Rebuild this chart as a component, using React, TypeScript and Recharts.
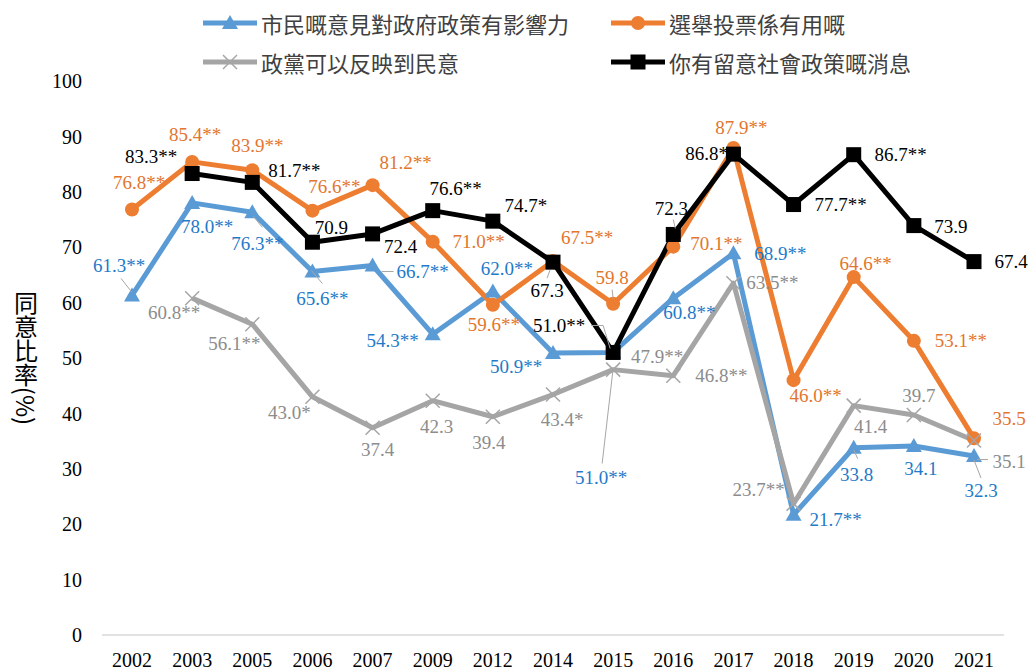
import React from 'react';
import { LineChart, Line, XAxis, YAxis } from 'recharts';

const years = ['2002', '2003', '2005', '2006', '2007', '2009', '2012', '2014', '2015', '2016', '2017', '2018', '2019', '2020', '2021'];

// 市民嘅意見對政府政策有影響力
const influence = [61.3, 78.0, 76.3, 65.6, 66.7, 54.3, 62.0, 50.9, 51.0, 60.8, 68.9, 21.7, 33.8, 34.1, 32.3];
const influenceSig = ['**', '**', '**', '**', '**', '**', '**', '**', '**', '**', '**', '**', '', '', ''];

// 選舉投票係有用嘅
const voting = [76.8, 85.4, 83.9, 76.6, 81.2, 71.0, 59.6, 67.5, 59.8, 70.1, 87.9, 46.0, 64.6, 53.1, 35.5];
const votingSig = ['**', '**', '**', '**', '**', '**', '**', '**', '', '**', '**', '**', '**', '**', ''];

// 政黨可以反映到民意
const parties = [null, 60.8, 56.1, 43.0, 37.4, 42.3, 39.4, 43.4, 47.9, 46.8, 63.5, 23.7, 41.4, 39.7, 35.1];
const partiesSig = ['', '**', '**', '*', '', '', '', '*', '**', '**', '**', '**', '', '', ''];

// 你有留意社會政策嘅消息
const attention = [null, 83.3, 81.7, 70.9, 72.4, 76.6, 74.7, 67.3, 51.0, 72.3, 86.8, 77.7, 86.7, 73.9, 67.4];
const attentionSig = ['', '**', '**', '', '', '**', '*', '', '**', '', '**', '**', '**', '', ''];

const yTicks = [0, 10, 20, 30, 40, 50, 60, 70, 80, 90, 100];

// label placement, relative to each point
const influenceLabelPos = [[-13, -30], [15, 24], [5, 31], [10, 27], [50, 6], [-40, 6], [14, -23], [-37, 13], [-12, 125], [16, 14], [47, 0], [42, 5], [3, 27], [7, 22], [7, 34]];
const votingLabelPos = [[7, -27], [3, -27], [5, -25], [22, -24], [33, -23], [46, 0], [1, 20], [34, -24], [-1, -26], [43, -3], [8, -21], [22, 15], [12, -14], [47, 0], [35, -20]];
const partiesLabelPos = [[0, 0], [-18, 14], [-18, 19], [-23, 16], [5, 22], [4, 26], [-4, 26], [9, 25], [44, -13], [48, 0], [39, -1], [-35, -14], [17, 21], [5, -20], [35, 21]];
const attentionLabelPos = [[0, 0], [-41, -17], [42, -12], [19, -15], [28, 13], [23, -22], [33, -16], [-6, 28], [-54, -27], [-2, -26], [-22, -1], [47, 0], [47, 0], [37, 1], [37, 0]];

// leader lines (relative polylines) for some labels
const influenceLeaders: Record<number, number[][]> = {
  0: [[-11, -17], [0, -3]],
  2: [[1, 4], [10, 15]],
  3: [[-1, -1], [10, 12]],
  4: [[9, 6], [21, 6]],
  8: [[0, 16], [-11, 111]],
  12: [[0, 2], [4, 11]],
  14: [[0, 4], [7, 22]],
};
const votingLeaders: Record<number, number[][]> = {
  8: [[-1, -14], [0, -5]],
};
const partiesLeaders: Record<number, number[][]> = {
  14: [[3, 19], [14, 19]],
};
const attentionLeaders: Record<number, number[][]> = {
  7: [[-3, 8], [-6, 16]],
  8: [[-22, -27], [-10, -27], [-3, -4]],
  9: [[0, -15], [2, -6]],
};

const data = years.map((year, i) => ({
  year,
  influence: influence[i],
  voting: voting[i],
  parties: parties[i],
  attention: attention[i],
}));

const serif = "'Liberation Serif', 'DejaVu Serif', serif";
const cjk = "'Noto Sans CJK TC', 'Noto Sans CJK SC', sans-serif";

type Marker = 'triangle' | 'circle' | 'cross' | 'square';

const series = [
  { key: 'influence', name: '市民嘅意見對政府政策有影響力', color: '#5B9BD5', text: '#1F7AC8', marker: 'triangle' as Marker, sig: influenceSig, pos: influenceLabelPos, leaders: influenceLeaders },
  { key: 'voting', name: '選舉投票係有用嘅', color: '#ED7D31', text: '#E2762E', marker: 'circle' as Marker, sig: votingSig, pos: votingLabelPos, leaders: votingLeaders },
  { key: 'parties', name: '政黨可以反映到民意', color: '#A5A5A5', text: '#8C8C8C', marker: 'cross' as Marker, sig: partiesSig, pos: partiesLabelPos, leaders: partiesLeaders },
  { key: 'attention', name: '你有留意社會政策嘅消息', color: '#000000', text: '#000000', marker: 'square' as Marker, sig: attentionSig, pos: attentionLabelPos, leaders: attentionLeaders },
];

function drawMarker(kind: Marker, color: string, cx: number, cy: number) {
  if (kind === 'triangle') {
    return <polygon points={`${cx},${cy - 8} ${cx - 8},${cy + 6} ${cx + 8},${cy + 6}`} fill={color} />;
  }
  if (kind === 'circle') {
    return <circle cx={cx} cy={cy} r={7} fill={color} />;
  }
  if (kind === 'square') {
    return <rect x={cx - 7.5} y={cy - 7.5} width={15} height={15} fill={color} />;
  }
  return (
    <g stroke={color} strokeWidth={1.5}>
      <line x1={cx - 7} y1={cy - 7} x2={cx + 7} y2={cy + 7} />
      <line x1={cx - 7} y1={cy + 7} x2={cx + 7} y2={cy - 7} />
    </g>
  );
}

const markerDot = (kind: Marker, color: string) => (props: any) => {
  const { cx, cy, index, payload } = props;
  if (cx == null || cy == null || payload == null || payload[props.dataKey] == null) return <g key={`m-${index}`} />;
  return <g key={`m-${index}`}>{drawMarker(kind, color, cx, cy)}</g>;
};

const labelDot = (s: (typeof series)[number]) => (props: any) => {
  const { cx, cy, index, payload } = props;
  const v = payload ? payload[s.key] : null;
  if (cx == null || cy == null || v == null) return <g key={`l-${index}`} />;
  const [dx, dy] = s.pos[index];
  const leader = s.leaders[index];
  return (
    <g key={`l-${index}`}>
      {leader && (
        <polyline
          points={leader.map(([lx, ly]) => `${cx + lx},${cy + ly}`).join(' ')}
          fill="none"
          stroke="#A6A6A6"
          strokeWidth={1}
        />
      )}
      <text
        x={cx + dx}
        y={cy + dy}
        textAnchor="middle"
        dominantBaseline="central"
        fontSize={19}
        fill={s.text}
        style={{ fontFamily: serif }}
      >
        {v.toFixed(1) + s.sig[index]}
      </text>
    </g>
  );
};

const legendPlaces = [
  { left: 203, top: 23 },
  { left: 611, top: 23 },
  { left: 203, top: 62 },
  { left: 611, top: 62 },
];

function LegendBox() {
  return (
    <>
      {series.map((s, i) => (
        <div
          key={s.key}
          style={{
            position: 'absolute',
            left: legendPlaces[i].left,
            top: legendPlaces[i].top - 15,
            height: 30,
            display: 'flex',
            alignItems: 'center',
            whiteSpace: 'nowrap',
          }}
        >
          <svg width={54} height={20} style={{ marginRight: 4 }}>
            <line x1={0} y1={10} x2={54} y2={10} stroke={s.color} strokeWidth={5} />
            {drawMarker(s.marker, s.color, 27, 10)}
          </svg>
          <span style={{ fontFamily: cjk, fontSize: 22, color: '#404040' }}>{s.name}</span>
        </div>
      ))}
    </>
  );
}

const YLabel = (props: any) => {
  const { viewBox } = props;
  const x = viewBox.x - 16;
  const y = viewBox.y + viewBox.height / 2;
  return (
    <text
      x={x}
      y={y}
      textAnchor="middle"
      fontSize={24}
      fill="#000"
      style={{ writingMode: 'vertical-rl', fontFamily: cjk } as any}
    >
      同意比率(%)
    </text>
  );
};

const tickStyle = { fontSize: 20, fill: '#000', style: { fontFamily: serif } };

export default function App() {
  return (
    <div style={{ position: 'absolute', left: 0, top: 0, width: 1034, height: 671, background: '#fff', fontFamily: serif }}>
      <LineChart width={1034} height={671} data={data} margin={{ top: 81, right: 30, bottom: 6, left: 42 }} style={{ fontFamily: serif }}>
        <XAxis
          dataKey="year"
          padding={{ left: 30, right: 30 }}
          interval={0}
          tickLine={false}
          axisLine={{ stroke: '#D9D9D9', strokeWidth: 1.5 }}
          tick={tickStyle}
          tickMargin={12}
          height={30}
        />
        <YAxis
          domain={[0, 100]}
          ticks={yTicks}
          interval={0}
          tickLine={false}
          axisLine={false}
          tickSize={0}
          tickMargin={20}
          width={60}
          tick={tickStyle}
          label={<YLabel />}
        />
        {series.map((s) => (
          <Line
            key={s.key}
            dataKey={s.key}
            name={s.name}
            stroke={s.color}
            strokeWidth={5}
            strokeLinejoin="round"
            dot={markerDot(s.marker, s.color)}
            activeDot={false}
            isAnimationActive={false}
          />
        ))}
        {series.map((s) => (
          <Line
            key={`${s.key}-labels`}
            dataKey={s.key}
            stroke="none"
            legendType="none"
            dot={labelDot(s)}
            activeDot={false}
            isAnimationActive={false}
          />
        ))}
      </LineChart>
      <LegendBox />
    </div>
  );
}
